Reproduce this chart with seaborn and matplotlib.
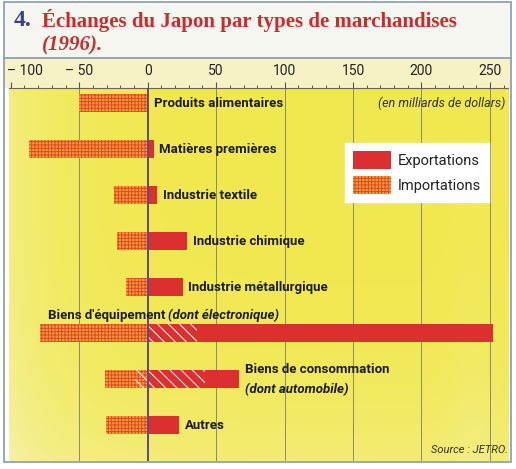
import matplotlib
matplotlib.use("Agg")
import matplotlib.pyplot as plt
import matplotlib.transforms as mtransforms
import seaborn as sns
import numpy as np
import pandas as pd
from matplotlib.patches import Patch, Rectangle
from matplotlib.lines import Line2D

# Data (milliards de dollars, 1996)
categories = ["Produits alimentaires", "Matières premières", "Industrie textile",
              "Industrie chimique", "Industrie métallurgique", "Biens d'équipement",
              "Biens de consommation", "Autres"]
exportations = [0.5, 4.5, 7, 29, 25.5, 252, 67, 23]
importations = [-50, -87, -24.5, -22.5, -16, -78.5, -31, -30.5]
# part "dont électronique" / "dont automobile"
exportations_dont = [0, 0, 0, 0, 0, 36, 42, 0]
importations_dont = [0, 0, 0, 0, 0, 0, -9.5, 0]
tick_values = [-100, -50, 0, 50, 100, 150, 200, 250]
tick_labels = ["– 100", "– 50", "0", "50", "100", "150", "200", "250"]

df = pd.DataFrame({"categorie": categories, "exp": exportations, "imp": importations,
                   "exp_dont": exportations_dont, "imp_dont": importations_dont})

RED = "#dc3030"
ORANGE = "#f7a12e"
HATCH_RED = "#e2452a"
SANS = ["Roboto", "DejaVu Sans"]
SERIF = ["Liberation Serif", "DejaVu Serif"]

sns.set_style("white")
plt.rcParams["hatch.linewidth"] = 0.7
plt.rcParams["font.family"] = SANS

W, H = 516, 469


def fx(x):
    return x / W


def fy(y):
    return 1 - y / H


fig = plt.figure(figsize=(W / 100, H / 100), dpi=100)
fig.patch.set_facecolor("white")

# title zone, tick band and outer frame
fig.patches.append(Rectangle((fx(4), fy(58)), fx(507), 56 / H, transform=fig.transFigure,
                             facecolor="#f6f6f1", edgecolor="none", zorder=-2))
fig.patches.append(Rectangle((fx(4), fy(88)), fx(507), 30 / H, transform=fig.transFigure,
                             facecolor="#f6f2c6", edgecolor="none", zorder=-2))
fig.patches.append(Rectangle((fx(4), fy(462)), fx(507), 460 / H, transform=fig.transFigure,
                             facecolor="none", edgecolor="#8da1ba", linewidth=1.3, zorder=5))
fig.lines.append(Line2D([fx(4), fx(511)], [fy(58), fy(58)], transform=fig.transFigure,
                        color="#8da1ba", linewidth=1.3, zorder=5))

ax = fig.add_axes([fx(9), fy(461), 499 / W, (461 - 88) / H])
xlim = (-101.3, 263.2)
ylim = (7.78, -0.326)

# yellow background with lighter edges
gx = np.linspace(0, 1, 300)
gy = np.linspace(0, 1, 200)[:, None]
mix = 0.4 * np.exp(-gx / 0.1) + 0.3 * gy ** 4 + 0.12 * np.exp(-((gx - 0.93) / 0.05) ** 2) * gy
mix = np.clip(mix, 0, 0.7)[..., None]
base = np.array([0.945, 0.91, 0.31])
bg = base * (1 - mix) + np.array([0.97, 0.96, 0.80]) * mix
ax.imshow(bg, extent=(xlim[0], xlim[1], ylim[0], ylim[1]), aspect="auto", zorder=0)

for v in tick_values[1:]:
    if v != 0:
        ax.axvline(v, color="#8c8a6a", linewidth=0.7, zorder=1)

bar_kw = dict(orient="h", width=0.39, errorbar=None, saturation=1, ax=ax, zorder=3)

sns.barplot(data=df, x="imp", y="categorie", color=ORANGE, hatch="+++++",
            edgecolor=HATCH_RED, linewidth=0, **bar_kw)
sns.barplot(data=df, x="exp", y="categorie", color=RED, linewidth=0, **bar_kw)
n = len(ax.patches)
sns.barplot(data=df, x="exp_dont", y="categorie", color=RED, hatch="\\\\\\",
            edgecolor="white", linewidth=0, **bar_kw)
sns.barplot(data=df, x="imp_dont", y="categorie", color=RED, hatch="\\\\\\",
            edgecolor="white", linewidth=0, **bar_kw)
for p in ax.patches[n:]:
    p.set_facecolor("none")

ax.axvline(0, color="#5b4a86", linewidth=1.4, zorder=6)

ax.set_xlim(*xlim)
ax.set_ylim(*ylim)
ax.set_xlabel("")
ax.set_ylabel("")
ax.set_yticks([])

ax.xaxis.tick_top()
ax.set_xticks(tick_values)
ax.set_xticklabels(tick_labels)
ax.set_xticks(np.arange(-100, 261, 10), minor=True)
ax.tick_params(axis="x", which="major", direction="out", length=4, width=0.8,
               color="#555544", pad=3, labelsize=10, labelcolor="#222222")
ax.tick_params(axis="x", which="minor", direction="out", length=2, width=0.7, color="#555544")
first = ax.get_xticklabels()[0]
first.set_horizontalalignment("left")
first.set_transform(first.get_transform() + mtransforms.ScaledTranslation(-3 / 72, 0, fig.dpi_scale_trans))
for side in ["left", "right", "bottom"]:
    ax.spines[side].set_visible(False)
ax.spines["top"].set_color("#666655")
ax.spines["top"].set_linewidth(0.8)

# category labels
lab_kw = dict(fontsize=9.5, fontweight="bold", color="#1c1c1c", va="center",
              textcoords="offset points", annotation_clip=False, zorder=7)
for i, cat in enumerate(categories):
    if i in (5, 6):
        continue
    ax.annotate(cat, xy=(max(exportations[i], 0), i), xytext=(4, 0), ha="left", **lab_kw)

t_eq = ax.annotate("Biens d'équipement ", xy=(-73, 4.62), ha="left", **{**lab_kw, "textcoords": "data"})
ax.annotate("(dont électronique)", xy=(1, 0.5), xycoords=t_eq, ha="left", va="center",
            fontsize=9.5, fontweight="bold", style="italic", color="#1c1c1c", zorder=7)
ax.annotate("Biens de consommation", xy=(exportations[6], 5.8), xytext=(4, 0), ha="left", **lab_kw)
ax.annotate("(dont automobile)", xy=(exportations[6], 6.22), xytext=(4, 0), ha="left",
            style="italic", **lab_kw)

ax.text(1 - 3 / 499, -0.326 + 15 / 46, "(en milliards de dollars)",
        transform=ax.get_yaxis_transform(), ha="right", va="center", fontsize=9,
        style="italic", color="#333333", zorder=7)
fig.text(fx(508), fy(450), "Source : JETRO.", ha="right", va="center", fontsize=8,
         style="italic", color="#333333")

# legend
handles = [Patch(facecolor=RED, edgecolor=RED, linewidth=0),
           Patch(facecolor=ORANGE, edgecolor=HATCH_RED, hatch="+++++", linewidth=0)]
lgd = ax.legend(handles, ["Exportations", "Importations"], loc="upper left",
                bbox_to_anchor=(fx(345), fy(143)), bbox_transform=fig.transFigure,
                frameon=True, fancybox=False, framealpha=1, facecolor="white",
                edgecolor="white", fontsize=10.5, handlelength=2.6, handleheight=1.5,
                handletextpad=0.45, labelspacing=0.5, borderpad=0.55, borderaxespad=0)
lgd.set_zorder(8)
for t in lgd.get_texts():
    t.set_color("#222222")

# title
fig.text(fx(14), fy(21), "4.", ha="left", va="center", fontsize=17, fontweight="bold",
         color="#3a3d8c", family=SERIF)
fig.text(fx(42), fy(20), "Échanges du Japon par types de marchandises", ha="left",
         va="center", fontsize=15, fontweight="bold", color="#cc2b2b", family=SERIF)
fig.text(fx(42), fy(45), "(1996).", ha="left", va="center", fontsize=15, fontweight="bold",
         style="italic", color="#cc2b2b", family=SERIF)

fig.savefig("out.png", dpi=100)
